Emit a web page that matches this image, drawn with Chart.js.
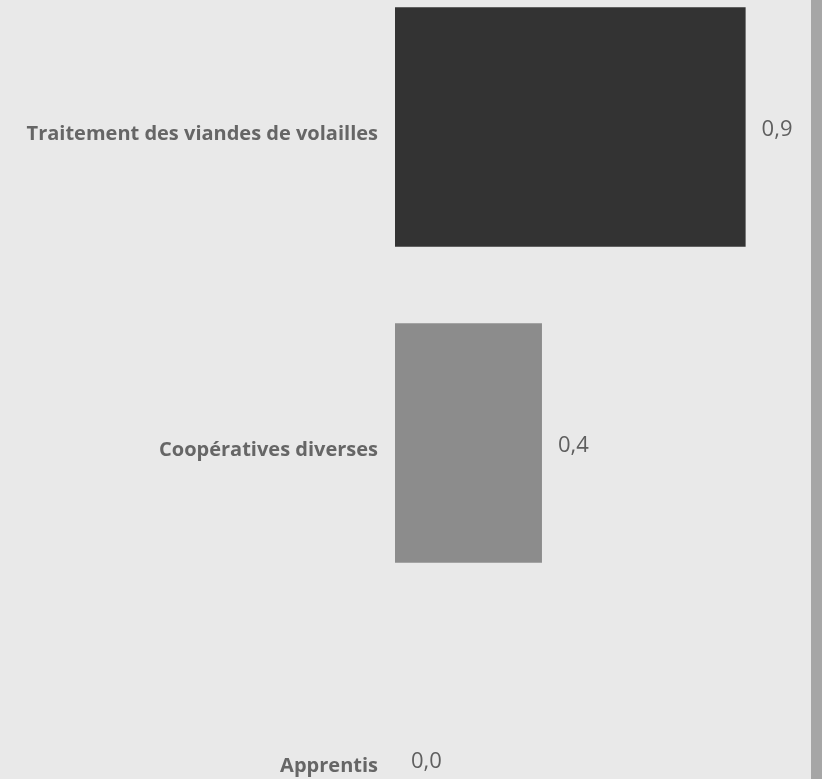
<!DOCTYPE html>
<html>
<head>
<meta charset="utf-8">
<script src="https://cdn.jsdelivr.net/npm/chart.js@4/dist/chart.umd.min.js"></script>
<style>
    html, body { margin: 0; padding: 0; overflow: hidden; background: #e9e9e9; }
    body { width: 822px; height: 779px; position: relative; }
    .chart-container { position: absolute; left: 0; top: -31px; width: 811px; height: 948px; }
    .scroll-strip { position: absolute; right: 0; top: 0; width: 11px; height: 779px; background: #a6a6a6; }
</style>
</head>
<body>
<div class="chart-container"><canvas id="barChart" width="811" height="948"></canvas></div>
<div class="scroll-strip"></div>
<script>
const categories = ['Traitement des viandes de volailles', 'Coopératives diverses', 'Apprentis'];
const values = [0.94, 0.394, 0.0];
const barColors = ['#333333', '#8c8c8c', '#8c8c8c'];

// writes the value next to the end of each bar, french decimal comma
const valueLabels = {
    id: 'valueLabels',
    afterDatasetsDraw(chart) {
        const ctx = chart.ctx;
        ctx.save();
        ctx.font = '22px "Open Sans"';
        ctx.fillStyle = '#5f5f5f';
        ctx.textAlign = 'left';
        ctx.textBaseline = 'middle';
        chart.getDatasetMeta(0).data.forEach((bar, i) => {
            const txt = values[i].toFixed(1).replace('.', ',');
            ctx.fillText(txt, bar.x + 16, bar.y + 2.5);
        });
        ctx.restore();
    }
};

const ctx = document.getElementById('barChart').getContext('2d');
let myChart = new Chart(ctx, {
    type: 'bar',
    data: {
        labels: categories,
        datasets: [{
            label: 'valeur',
            data: values,
            backgroundColor: barColors,
            borderWidth: 0,
            categoryPercentage: 1,
            barPercentage: 0.758
        }]
    },
    options: {
        indexAxis: 'y',
        animation: false,
        responsive: false,
        layout: { padding: { left: 0, right: 43, top: 0, bottom: 0 } },
        plugins: {
            legend: { display: false },
            tooltip: { enabled: false }
        },
        scales: {
            x: { display: false, min: 0, max: 1 },
            y: {
                grid: { display: false, drawTicks: false },
                border: { display: false },
                afterFit: s => {
                    s.width = 395;
                    s.paddingTop = 0;
                    s.paddingBottom = 0;
                },
                ticks: {
                    padding: 17,
                    labelOffset: 7,
                    color: '#666666',
                    font: { family: '"Open Sans"', size: 20, weight: 'bold' }
                }
            }
        }
    },
    plugins: [valueLabels]
});
</script>
</body>
</html>
